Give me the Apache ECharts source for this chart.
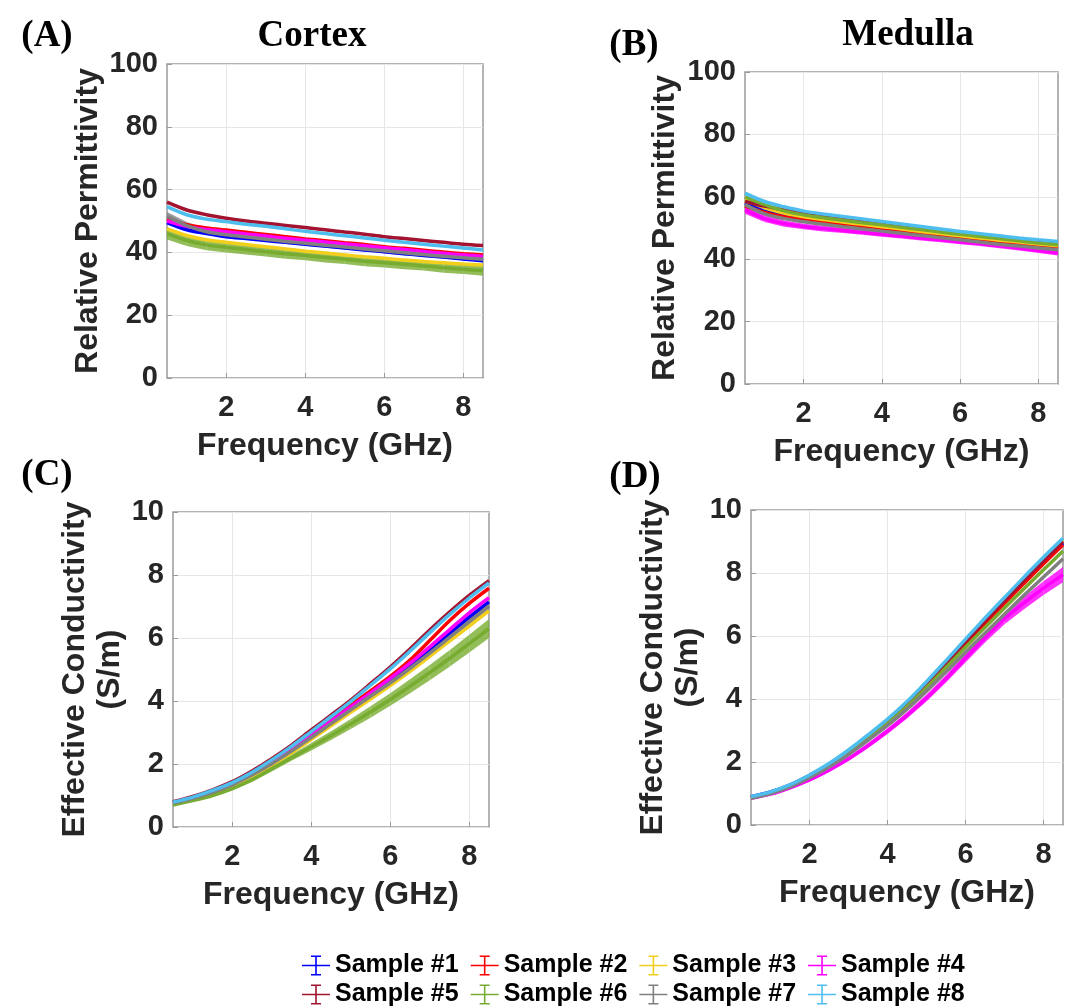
<!DOCTYPE html>
<html>
<head>
<meta charset="utf-8">
<title>Cortex / Medulla dielectric properties</title>
<script src="https://cdn.jsdelivr.net/npm/echarts@6/dist/echarts.min.js"></script>
<style>
  html, body { margin: 0; padding: 0; background: #fff; }
  #main { width: 1067px; height: 1007px; }
</style>
</head>
<body>
<div id="main"></div>
<script>
// frequency points (GHz)
var freq = [0.5, 1, 1.5, 2, 2.5, 3, 3.5, 4, 4.5, 5, 5.5, 6, 6.5, 7, 7.5, 8, 8.5];
var xTicks = [2, 4, 6, 8];

var sampleNames = ['Sample #1', 'Sample #2', 'Sample #3', 'Sample #4',
                   'Sample #5', 'Sample #6', 'Sample #7', 'Sample #8'];
var sampleColors = ['#0000FF', '#FF0000', '#F2CF1D', '#FF00FF',
                    '#A2142F', '#77AC30', '#808080', '#4DBEEE'];

// (A) cortex - relative permittivity
var cortexPermS1 = [49.5, 47.2, 46.0, 45.0, 44.4, 43.8, 43.2, 42.6, 42.0, 41.4, 40.8, 40.2, 39.6, 39.0, 38.5, 37.9, 37.3];
var cortexPermS2 = [50.5, 48.8, 47.8, 47.1, 46.4, 45.7, 45.0, 44.3, 43.7, 43.1, 42.5, 41.8, 41.3, 40.7, 40.1, 39.6, 39.2];
var cortexPermS3 = [47.5, 45.4, 44.0, 43.2, 42.5, 41.8, 41.1, 40.4, 39.8, 39.2, 38.6, 38.1, 37.6, 37.1, 36.7, 36.3, 36.0];
var cortexPermS4 = [50.0, 48.3, 47.3, 46.6, 45.9, 45.2, 44.5, 43.9, 43.3, 42.7, 42.1, 41.5, 40.9, 40.3, 39.7, 39.2, 38.7];
var cortexPermS5 = [56.0, 53.5, 52.0, 50.9, 50.0, 49.3, 48.6, 47.9, 47.2, 46.5, 45.8, 45.0, 44.4, 43.8, 43.2, 42.6, 42.2];
var cortexPermS6 = [46.0, 43.8, 42.4, 41.6, 40.9, 40.2, 39.6, 39.0, 38.4, 37.8, 37.2, 36.7, 36.2, 35.7, 35.1, 34.6, 34.2];
var cortexPermS7 = [51.5, 48.5, 46.6, 45.6, 44.9, 44.2, 43.5, 42.9, 42.3, 41.7, 41.1, 40.5, 39.9, 39.3, 38.8, 38.3, 37.8];
var cortexPermS8 = [54.6, 52.0, 50.6, 49.8, 49.0, 48.3, 47.5, 46.7, 46.0, 45.3, 44.6, 43.9, 43.2, 42.6, 42.0, 41.4, 40.8];
var cortexPermErrS6 = [1.9, 1.8, 1.7, 1.6, 1.6, 1.5, 1.6, 1.5, 1.6, 1.5, 1.6, 1.5, 1.6, 1.5, 1.6, 1.5, 1.6];
var cortexPermErrS7 = [1.4, 1.2, 1.0, 0.9, 0.9, 0.8, 0.8, 0.8, 0.8, 0.8, 0.8, 0.8, 0.8, 0.8, 0.8, 0.8, 0.8];

// (B) medulla - relative permittivity
var medullaPermS1 = [58.0, 55.8, 54.2, 53.1, 52.2, 51.4, 50.6, 49.8, 49.0, 48.3, 47.5, 46.8, 46.1, 45.4, 44.7, 44.1, 43.5];
var medullaPermS2 = [57.0, 55.0, 53.6, 52.6, 51.8, 51.0, 50.3, 49.6, 48.9, 48.2, 47.5, 46.8, 46.1, 45.4, 44.8, 44.2, 43.6];
var medullaPermS3 = [59.0, 56.5, 54.8, 53.6, 52.7, 51.9, 51.2, 50.4, 49.7, 48.9, 48.2, 47.5, 46.8, 46.1, 45.5, 44.9, 44.3];
var medullaPermS4 = [55.8, 53.0, 51.4, 50.5, 49.8, 49.2, 48.6, 48.0, 47.4, 46.8, 46.2, 45.6, 45.0, 44.3, 43.6, 42.8, 42.0];
var medullaPermS5 = [58.5, 57.0, 55.8, 54.8, 53.9, 53.1, 52.4, 51.6, 50.9, 50.1, 49.4, 48.6, 47.9, 47.2, 46.5, 45.9, 45.3];
var medullaPermS6 = [60.0, 57.5, 55.5, 54.2, 53.3, 52.5, 51.7, 51.0, 50.2, 49.5, 48.7, 48.0, 47.3, 46.6, 45.9, 45.2, 44.6];
var medullaPermS7 = [57.5, 54.5, 53.0, 52.0, 51.2, 50.4, 49.7, 49.0, 48.3, 47.6, 46.9, 46.2, 45.5, 44.8, 44.2, 43.6, 43.0];
var medullaPermS8 = [61.2, 58.5, 56.8, 55.4, 54.5, 53.7, 52.9, 52.1, 51.3, 50.5, 49.7, 48.9, 48.2, 47.5, 46.8, 46.2, 45.7];
var medullaPermErrS4 = [1.2, 1.1, 1.0, 0.9, 0.9, 0.8, 0.8, 0.8, 0.8, 0.8, 0.8, 0.8, 0.8, 0.8, 0.8, 0.8, 0.8];

// (C) cortex - effective conductivity (S/m)
var cortexCondS1 = [0.77, 0.92, 1.12, 1.36, 1.67, 2.04, 2.44, 2.88, 3.32, 3.77, 4.21, 4.66, 5.12, 5.62, 6.14, 6.66, 7.15];
var cortexCondS2 = [0.78, 0.94, 1.14, 1.39, 1.71, 2.09, 2.51, 2.96, 3.42, 3.88, 4.32, 4.78, 5.30, 5.92, 6.55, 7.10, 7.58];
var cortexCondS3 = [0.75, 0.90, 1.08, 1.32, 1.62, 1.97, 2.36, 2.78, 3.21, 3.64, 4.06, 4.49, 4.94, 5.42, 5.90, 6.38, 6.86];
var cortexCondS4 = [0.77, 0.93, 1.13, 1.37, 1.69, 2.06, 2.47, 2.91, 3.36, 3.81, 4.26, 4.72, 5.20, 5.72, 6.26, 6.80, 7.28];
var cortexCondS5 = [0.80, 0.97, 1.18, 1.44, 1.78, 2.17, 2.60, 3.08, 3.55, 4.03, 4.55, 5.08, 5.65, 6.25, 6.82, 7.35, 7.82];
var cortexCondS6 = [0.70, 0.84, 1.00, 1.22, 1.50, 1.85, 2.20, 2.55, 2.90, 3.27, 3.65, 4.05, 4.47, 4.90, 5.35, 5.82, 6.30];
var cortexCondS7 = [0.76, 0.91, 1.10, 1.34, 1.65, 2.01, 2.41, 2.84, 3.28, 3.72, 4.15, 4.58, 5.04, 5.52, 6.02, 6.52, 7.02];
var cortexCondS8 = [0.79, 0.95, 1.16, 1.41, 1.74, 2.13, 2.56, 3.03, 3.50, 3.98, 4.50, 5.02, 5.58, 6.17, 6.74, 7.27, 7.75];
var cortexCondErrS6 = [0.03, 0.04, 0.05, 0.06, 0.07, 0.09, 0.10, 0.12, 0.14, 0.16, 0.18, 0.20, 0.22, 0.24, 0.26, 0.28, 0.30];
var cortexCondErrS7 = [0.02, 0.02, 0.03, 0.03, 0.04, 0.05, 0.06, 0.07, 0.08, 0.09, 0.10, 0.11, 0.12, 0.13, 0.14, 0.15, 0.16];

// (D) medulla - effective conductivity (S/m)
var medullaCondS1 = [0.90, 1.05, 1.27, 1.57, 1.92, 2.34, 2.81, 3.30, 3.85, 4.46, 5.12, 5.78, 6.44, 7.08, 7.72, 8.34, 8.95];
var medullaCondS2 = [0.87, 1.02, 1.24, 1.54, 1.89, 2.31, 2.78, 3.27, 3.82, 4.43, 5.08, 5.74, 6.40, 7.04, 7.67, 8.29, 8.90];
var medullaCondS3 = [0.88, 1.03, 1.26, 1.56, 1.92, 2.35, 2.83, 3.33, 3.89, 4.51, 5.18, 5.86, 6.52, 7.17, 7.81, 8.44, 9.05];
var medullaCondS4 = [0.85, 0.98, 1.18, 1.43, 1.74, 2.10, 2.52, 2.98, 3.48, 4.03, 4.64, 5.30, 5.95, 6.55, 7.05, 7.52, 7.95];
var medullaCondS5 = [0.88, 1.03, 1.26, 1.57, 1.92, 2.35, 2.82, 3.32, 3.87, 4.49, 5.15, 5.82, 6.48, 7.12, 7.76, 8.39, 9.00];
var medullaCondS6 = [0.86, 1.01, 1.23, 1.53, 1.87, 2.28, 2.74, 3.22, 3.76, 4.36, 5.00, 5.64, 6.27, 6.89, 7.50, 8.10, 8.70];
var medullaCondS7 = [0.85, 1.00, 1.21, 1.50, 1.84, 2.24, 2.69, 3.16, 3.68, 4.25, 4.86, 5.48, 6.09, 6.69, 7.29, 7.87, 8.45];
var medullaCondS8 = [0.90, 1.05, 1.28, 1.59, 1.95, 2.38, 2.86, 3.36, 3.92, 4.55, 5.22, 5.90, 6.57, 7.22, 7.87, 8.50, 9.10];
var medullaCondErrS4 = [0.02, 0.03, 0.04, 0.05, 0.06, 0.07, 0.08, 0.09, 0.10, 0.11, 0.12, 0.14, 0.16, 0.18, 0.20, 0.22, 0.24];

var panels = [
    { grid: { left: 167, top: 64, width: 316, height: 314 }, yMax: 100, yInterval: 20,
      yName: 'Relative Permittivity', yGap: 60,
      data: [cortexPermS1, cortexPermS2, cortexPermS3, cortexPermS4, cortexPermS5, cortexPermS6, cortexPermS7, cortexPermS8],
      errs: { 5: cortexPermErrS6, 6: cortexPermErrS7 } },
    { grid: { left: 745, top: 72, width: 313, height: 312 }, yMax: 100, yInterval: 20,
      yName: 'Relative Permittivity', yGap: 62,
      data: [medullaPermS1, medullaPermS2, medullaPermS3, medullaPermS4, medullaPermS5, medullaPermS6, medullaPermS7, medullaPermS8],
      errs: { 3: medullaPermErrS4 } },
    { grid: { left: 173, top: 512, width: 316, height: 315 }, yMax: 10, yInterval: 2,
      yName: 'Effective Conductivity\n(S/m)', yGap: 38,
      data: [cortexCondS1, cortexCondS2, cortexCondS3, cortexCondS4, cortexCondS5, cortexCondS6, cortexCondS7, cortexCondS8],
      errs: { 5: cortexCondErrS6, 6: cortexCondErrS7 } },
    { grid: { left: 751, top: 510, width: 312, height: 315 }, yMax: 10, yInterval: 2,
      yName: 'Effective Conductivity\n(S/m)', yGap: 38,
      data: [medullaCondS1, medullaCondS2, medullaCondS3, medullaCondS4, medullaCondS5, medullaCondS6, medullaCondS7, medullaCondS8],
      errs: { 3: medullaCondErrS4 } }
];

var axisText = '#262626';
var boxColor = '#9a9a9a';
var gridColor = '#e6e6e6';
var sansFont = '"Liberation Sans", Arial, sans-serif';
var serifFont = '"Liberation Serif", "Times New Roman", serif';

// error band: one quad per segment between neighbouring points
function bandItem(params, api) {
    var p0 = api.coord([api.value(0), api.value(1)]);
    var p1 = api.coord([api.value(3), api.value(4)]);
    var p2 = api.coord([api.value(3), api.value(5)]);
    var p3 = api.coord([api.value(0), api.value(2)]);
    return {
        type: 'polygon',
        shape: { points: [p0, p1, p2, p3] },
        style: { fill: api.visual('color'), opacity: 0.8 }
    };
}

var grids = [], xAxes = [], yAxes = [], series = [];

panels.forEach(function (p, pi) {
    grids.push({
        left: p.grid.left, top: p.grid.top, width: p.grid.width, height: p.grid.height,
        show: true, borderColor: boxColor, borderWidth: 1.5, backgroundColor: '#fff'
    });
    xAxes.push({
        gridIndex: pi, type: 'value', min: 0.5, max: 8.5,
        name: 'Frequency (GHz)', nameLocation: 'middle', nameGap: 52,
        nameTextStyle: { fontFamily: sansFont, fontWeight: 'bold', fontSize: 32, color: axisText },
        axisLine: { show: false },
        axisTick: { show: true, inside: true, length: 5, customValues: xTicks,
                    lineStyle: { color: boxColor } },
        axisLabel: { customValues: xTicks, margin: 15, fontFamily: sansFont,
                     fontWeight: 'bold', fontSize: 29, color: axisText },
        splitLine: { show: true, lineStyle: { color: gridColor, width: 1 } }
    });
    yAxes.push({
        gridIndex: pi, type: 'value', min: 0, max: p.yMax, interval: p.yInterval,
        name: p.yName, nameLocation: 'middle', nameGap: p.yGap, nameRotate: 90,
        nameTextStyle: { fontFamily: sansFont, fontWeight: 'bold', fontSize: 32,
                         color: axisText, lineHeight: 35 },
        axisLine: { show: false },
        axisTick: { show: true, inside: true, length: 5, lineStyle: { color: boxColor } },
        axisLabel: { margin: 9, fontFamily: sansFont, fontWeight: 'bold', fontSize: 29, color: axisText },
        splitLine: { show: true, lineStyle: { color: gridColor, width: 1 } }
    });

    p.data.forEach(function (vals, si) {
        var err = p.errs[si];
        if (err) {
            var band = [];
            for (var k = 0; k < freq.length - 1; k++) {
                band.push([freq[k], vals[k] - err[k], vals[k] + err[k],
                           freq[k + 1], vals[k + 1] - err[k + 1], vals[k + 1] + err[k + 1]]);
            }
            series.push({
                type: 'custom', name: sampleNames[si] + ' err',
                xAxisIndex: pi, yAxisIndex: pi,
                renderItem: bandItem,
                encode: { x: [0, 3], y: [1, 2, 4, 5] },
                itemStyle: { color: sampleColors[si] },
                data: band, silent: true, clip: true
            });
        }
        series.push({
            type: 'line', name: sampleNames[si],
            xAxisIndex: pi, yAxisIndex: pi,
            data: freq.map(function (f, k) { return [f, vals[k]]; }),
            showSymbol: false, symbol: 'none', smooth: 0.3,
            lineStyle: { width: 3.5, color: sampleColors[si] },
            itemStyle: { color: sampleColors[si] },
            emphasis: { disabled: true }
        });
    });
});

// legend glyph: errorbar cross with caps
var errIcon = 'path://M0,9.2L28,9.2L28,10.8L0,10.8Z M13.2,0L14.8,0L14.8,20L13.2,20Z M9,0L19,0L19,1.6L9,1.6Z M9,18.4L19,18.4L19,20L9,20Z';

var legendText = { fontFamily: sansFont, fontWeight: 'bold', fontSize: 25, color: '#000' };

var option = {
    backgroundColor: '#fff',
    animation: false,
    title: [
        { text: '(A)', left: 42, top: 13, textAlign: 'center',
          textStyle: { fontFamily: serifFont, fontWeight: 'bold', fontSize: 37, color: '#000' } },
        { text: 'Cortex', left: 307, top: 13, textAlign: 'center',
          textStyle: { fontFamily: serifFont, fontWeight: 'bold', fontSize: 37, color: '#000' } },
        { text: '(B)', left: 629, top: 22, textAlign: 'center',
          textStyle: { fontFamily: serifFont, fontWeight: 'bold', fontSize: 37, color: '#000' } },
        { text: 'Medulla', left: 903, top: 12, textAlign: 'center',
          textStyle: { fontFamily: serifFont, fontWeight: 'bold', fontSize: 37, color: '#000' } },
        { text: '(C)', left: 42, top: 452, textAlign: 'center',
          textStyle: { fontFamily: serifFont, fontWeight: 'bold', fontSize: 37, color: '#000' } },
        { text: '(D)', left: 630, top: 454, textAlign: 'center',
          textStyle: { fontFamily: serifFont, fontWeight: 'bold', fontSize: 37, color: '#000' } }
    ],
    legend: [
        { data: sampleNames.slice(0, 4), left: 297, top: 948, icon: errIcon,
          itemWidth: 28, itemHeight: 20, itemGap: 12, textStyle: legendText,
          selectedMode: false },
        { data: sampleNames.slice(4, 8), left: 297, top: 977, icon: errIcon,
          itemWidth: 28, itemHeight: 20, itemGap: 12, textStyle: legendText,
          selectedMode: false }
    ],
    grid: grids,
    xAxis: xAxes,
    yAxis: yAxes,
    series: series
};

var myChart = echarts.init(document.getElementById('main'));
myChart.setOption(option);
</script>
</body>
</html>
